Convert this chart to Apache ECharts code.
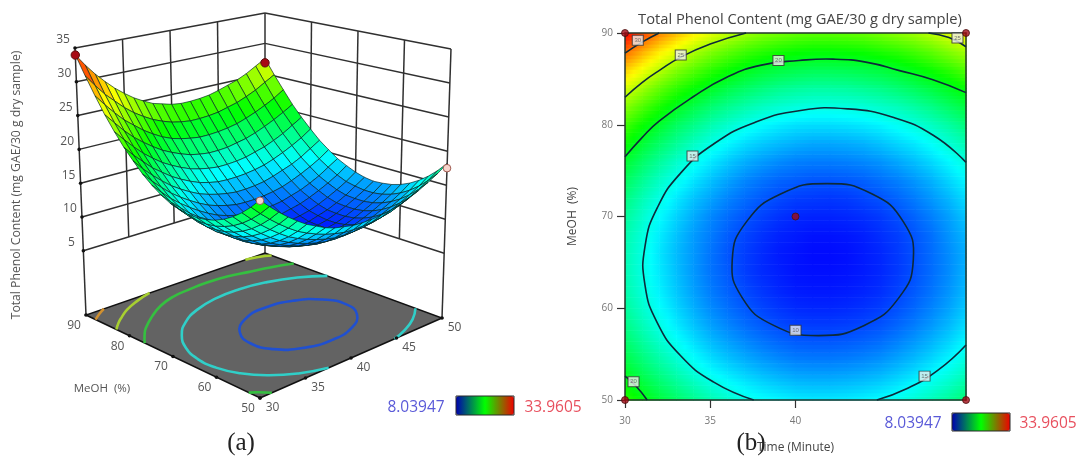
<!DOCTYPE html>
<html><head><meta charset="utf-8">
<style>html,body{margin:0;padding:0;background:#fff}#c{width:1077px;height:456px;filter:blur(0.45px)}</style>
<script src="https://cdn.jsdelivr.net/npm/echarts@6/dist/echarts.min.js"></script>
</head><body><div id="c"></div>
<script>
// ---- data ----
const timeValues = [30,31,32,33,34,35,36,37,38,39,40,41,42,43,44,45,46,47,48,49,50];
const meohValues = [50,52,54,56,58,60,62,64,66,68,70,72,74,76,78,80,82,84,86,88,90];
const tpcAtMeoh50 = [22.1,20.8,19.6,18.5,17.5,16.6,15.9,15.2,14.7,14.4,14.1,14.0,14.0,14.1,14.3,14.6,15.1,15.7,16.4,17.2,18.2];
const tpcAtMeoh52 = [20.7,19.4,18.2,17.1,16.1,15.2,14.5,13.9,13.4,13.0,12.7,12.6,12.6,12.7,12.9,13.2,13.7,14.3,15.0,15.8,16.8];
const tpcAtMeoh54 = [19.5,18.2,17.0,15.9,14.9,14.0,13.3,12.7,12.2,11.8,11.5,11.4,11.4,11.5,11.7,12.0,12.5,13.1,13.8,14.6,15.6];
const tpcAtMeoh56 = [18.5,17.2,16.0,14.9,13.9,13.0,12.3,11.7,11.2,10.8,10.5,10.4,10.4,10.5,10.7,11.0,11.5,12.1,12.8,13.6,14.6];
const tpcAtMeoh58 = [17.7,16.4,15.2,14.1,13.1,12.2,11.5,10.9,10.4,10.0,9.7,9.6,9.6,9.7,9.9,10.2,10.7,11.3,12.0,12.8,13.8];
const tpcAtMeoh60 = [17.1,15.8,14.6,13.5,12.5,11.6,10.9,10.3,9.8,9.4,9.1,9.0,9.0,9.1,9.3,9.6,10.1,10.7,11.4,12.2,13.2];
const tpcAtMeoh62 = [16.7,15.4,14.2,13.1,12.1,11.2,10.5,9.9,9.4,9.0,8.7,8.6,8.6,8.7,8.9,9.2,9.7,10.3,11.0,11.8,12.8];
const tpcAtMeoh64 = [16.5,15.2,14.0,12.9,11.9,11.0,10.3,9.6,9.1,8.8,8.5,8.4,8.4,8.5,8.7,9.0,9.5,10.1,10.8,11.6,12.6];
const tpcAtMeoh66 = [16.5,15.2,13.9,12.8,11.9,11.0,10.2,9.6,9.1,8.7,8.5,8.3,8.3,8.4,8.7,9.0,9.5,10.1,10.8,11.6,12.5];
const tpcAtMeoh68 = [16.7,15.4,14.1,13.0,12.0,11.2,10.4,9.8,9.3,8.9,8.7,8.5,8.5,8.6,8.8,9.2,9.6,10.2,10.9,11.8,12.7];
const tpcAtMeoh70 = [17.1,15.8,14.5,13.4,12.4,11.5,10.8,10.2,9.7,9.3,9.0,8.9,8.9,9.0,9.2,9.5,10.0,10.6,11.3,12.1,13.1];
const tpcAtMeoh72 = [17.8,16.4,15.2,14.0,13.0,12.2,11.4,10.8,10.3,9.9,9.6,9.5,9.4,9.5,9.8,10.1,10.6,11.2,11.9,12.7,13.7];
const tpcAtMeoh74 = [18.7,17.3,16.0,14.9,13.9,13.0,12.2,11.5,11.0,10.6,10.4,10.2,10.2,10.3,10.5,10.9,11.3,11.9,12.6,13.5,14.4];
const tpcAtMeoh76 = [19.8,18.4,17.1,15.9,14.9,14.0,13.2,12.5,12.0,11.6,11.3,11.2,11.2,11.3,11.5,11.8,12.3,12.9,13.6,14.4,15.4];
const tpcAtMeoh78 = [21.2,19.7,18.4,17.2,16.1,15.2,14.4,13.7,13.2,12.8,12.5,12.3,12.3,12.4,12.6,13.0,13.5,14.0,14.7,15.6,16.5];
const tpcAtMeoh80 = [22.7,21.2,19.9,18.6,17.6,16.6,15.8,15.1,14.5,14.1,13.8,13.7,13.7,13.8,14.0,14.3,14.8,15.4,16.1,16.9,17.9];
const tpcAtMeoh82 = [24.5,23.0,21.6,20.3,19.2,18.2,17.4,16.7,16.1,15.7,15.4,15.2,15.2,15.3,15.5,15.9,16.3,16.9,17.6,18.5,19.4];
const tpcAtMeoh84 = [26.5,25.0,23.5,22.2,21.1,20.1,19.2,18.5,17.9,17.4,17.1,16.9,16.9,17.0,17.3,17.6,18.1,18.7,19.4,20.2,21.1];
const tpcAtMeoh86 = [28.8,27.2,25.7,24.3,23.2,22.1,21.2,20.4,19.8,19.4,19.1,18.9,18.9,19.0,19.2,19.5,20.0,20.6,21.3,22.1,23.1];
const tpcAtMeoh88 = [31.3,29.6,28.0,26.7,25.4,24.3,23.4,22.6,22.0,21.5,21.2,21.0,21.0,21.1,21.3,21.7,22.1,22.7,23.4,24.3,25.2];
const tpcAtMeoh90 = [34.0,32.2,30.6,29.2,27.9,26.8,25.8,25.0,24.3,23.9,23.5,23.3,23.3,23.4,23.6,24.0,24.5,25.0,25.7,26.6,27.5];
const tpcRows = [tpcAtMeoh50,tpcAtMeoh52,tpcAtMeoh54,tpcAtMeoh56,tpcAtMeoh58,tpcAtMeoh60,tpcAtMeoh62,tpcAtMeoh64,tpcAtMeoh66,tpcAtMeoh68,tpcAtMeoh70,tpcAtMeoh72,tpcAtMeoh74,tpcAtMeoh76,tpcAtMeoh78,tpcAtMeoh80,tpcAtMeoh82,tpcAtMeoh84,tpcAtMeoh86,tpcAtMeoh88,tpcAtMeoh90];

const contour10 = [[46.91,65.3],[46.32,69.44],[44.47,72.47],[41.85,73.58],[39.16,72.47],[37.13,69.44],[36.29,65.3],[36.87,61.16],[38.72,58.13],[41.35,57.02],[44.03,58.13],[46.07,61.16]];
const contour15a = [[50,75.9],[48.1,78.83],[45.71,80.81],[43.06,81.73],[40.3,81.55],[37.63,80.26],[35.24,77.96],[33.3,74.81],[31.91,71.01],[31.18,66.83],[31.17,62.55],[31.88,58.46],[33.25,54.85],[35.18,51.97],[37.55,50]];
const contour15b = [[44.77,50],[46.48,51.2],[48.32,53.2],[50,56]];
const contour20a = [[30,76.5],[31,78.6],[32,80.4],[34,83.05],[36,85.2],[38,86.5],[40.2,87.0],[42.2,87.15],[44.2,86.8],[46.1,85.9],[48.06,84.9],[50,83.5]];
const contour20b = [[30,52.6],[30.6,51.6],[31.3,50]];
const contour25a = [[30,83],[31,84.6],[32,85.9],[33.3,87.4],[35,88.8],[37.1,90]];
const contour25b = [[47.8,90],[49,89.5],[50,88.5]];
const contour30 = [[30,87.8],[31,89],[32,90]];
const contourList = [
  {pts:contour10,  floor:'#2050d0', closed:true},
  {pts:contour15a, floor:'#30cfc8'},
  {pts:contour15b, floor:'#30cfc8'},
  {pts:contour20a, floor:'#35c040'},
  {pts:contour20b, floor:'#35c040'},
  {pts:contour25a, floor:'#a8d030'},
  {pts:contour25b, floor:'#a8d030'},
  {pts:contour30,  floor:'#d09030'}
];
const contourLabels = [[30.75,89.2,'30'],[33.27,87.6,'25'],[39,87.0,'20'],[33.96,76.6,'15'],[49.5,89.45,'25'],[40,57.6,'10'],[47.57,52.6,'15'],[30.5,52,'20']];
const designPoints2D = [[30,90],[50,90],[40,70],[30,50],[50,50]];
const designHigh3D = [[30,90,33.96],[50,90,26.8]];
const designLow3D = [[50,50,17.5],[30,50,22]];

const tpcMin = 8.03947, tpcMax = 33.9605;
const timeTicks = [30,35,40,45,50];
const meohTicks = [50,60,70,80,90];
const tpcTicks = [5,10,15,20,25,30,35];
const visibleTimeTicks = [30,35,40];

// ---- colours ----
const surfaceStops = ['#0000ff','#00ffff','#00ff00','#ffff00','#ff0000'];
const legendStops = ['#0000b0','#00ff00','#f00000'];
const shade = v => echarts.color.lerp(Math.max(0,Math.min(1,(v-tpcMin)/(tpcMax-tpcMin))), surfaceStops);

// ---- projection of the 3D box on the page plane (corner positions of the box) ----
const zFloor = -4.5, zTop = 35;
const boxFloor = {a:[260,398], b:[442,318], c:[86,315], d:[265,253]};   // a:(30,50) b:(50,50) c:(30,90) d:(50,90)
const boxTop   = {a:[260,104], b:[451,49],  c:[75,48],  d:[265,13]};
function project(t,m,z){
  const u=(t-30)/20, v=(m-50)/40, w=(z-zFloor)/(zTop-zFloor);
  const bl=(s,k)=>(1-v)*((1-u)*s.a[k]+u*s.b[k])+v*((1-u)*s.c[k]+u*s.d[k]);
  return [bl(boxFloor,0)*(1-w)+bl(boxTop,0)*w, bl(boxFloor,1)*(1-w)+bl(boxTop,1)*w];
}

// ---- build items ----
const wallSegs = [];
tpcTicks.forEach(z=>{ wallSegs.push([30,90,z,50,90,z]); wallSegs.push([50,90,z,50,50,z]); });
timeTicks.slice(1,4).forEach(t=>wallSegs.push([t,90,5,t,90,35]));
meohTicks.slice(1,4).forEach(m=>wallSegs.push([50,m,5,50,m,35]));
wallSegs.push([30,90,zFloor,30,90,35],[50,90,zFloor,50,90,35],[50,50,zFloor,50,50,35]);

const surfaceCells = [];
for(let i=timeValues.length-2;i>=0;i--) for(let j=meohValues.length-2;j>=0;j--) surfaceCells.push([i,j]);
const heatCells = surfaceCells.slice();

const chart = echarts.init(document.getElementById('c'),null,{renderer:'canvas'});
const P = (api,t,m,z)=>api.coord(project(t,m,z));
const silentBase = {silent:true, animation:false, clip:false};
const series = [];

// a closed contour is drawn as a smooth ring; an open one as a smooth arc
function contourShape(c,toPage){
  return {type:c.closed?'polygon':'polyline',shape:{points:c.pts.map(toPage),smooth:0.5,smoothConstraint:false}};
}

// back walls
series.push({...silentBase,type:'custom',xAxisIndex:0,yAxisIndex:0,z:2,data:wallSegs,
  renderItem(p,api){const s=wallSegs[p.dataIndex];
    return {type:'line',shape:{x1:P(api,s[0],s[1],s[2])[0],y1:P(api,s[0],s[1],s[2])[1],x2:P(api,s[3],s[4],s[5])[0],y2:P(api,s[3],s[4],s[5])[1]},style:{stroke:'#303030',lineWidth:1.5}};}
});
// floor
series.push({...silentBase,type:'custom',xAxisIndex:0,yAxisIndex:0,z:3,data:[[30,50]],
  renderItem(p,api){return {type:'polygon',shape:{points:[P(api,30,50,zFloor),P(api,50,50,zFloor),P(api,50,90,zFloor),P(api,30,90,zFloor)]},style:{fill:'#636363',stroke:'#111',lineWidth:1.5}};}
});
// floor contours
series.push({...silentBase,type:'custom',xAxisIndex:0,yAxisIndex:0,z:4,data:contourList.map(c=>c.pts[0]),
  renderItem(p,api){const c=contourList[p.dataIndex];
    return Object.assign(contourShape(c,q=>P(api,q[0],q[1],zFloor)),{style:{stroke:c.floor,lineWidth:2.6,fill:'none'}});}
});
// surface mesh
series.push({...silentBase,type:'custom',xAxisIndex:0,yAxisIndex:0,z:5,data:surfaceCells,
  renderItem(p,api){const [i,j]=surfaceCells[p.dataIndex];
    const T=timeValues,M=meohValues,R=tpcRows;
    const v=(R[j][i]+R[j][i+1]+R[j+1][i]+R[j+1][i+1])/4;
    return {type:'polygon',shape:{points:[P(api,T[i],M[j],R[j][i]),P(api,T[i+1],M[j],R[j][i+1]),P(api,T[i+1],M[j+1],R[j+1][i+1]),P(api,T[i],M[j+1],R[j+1][i])]},
      style:{fill:shade(v),stroke:'rgba(5,40,35,0.75)',lineWidth:0.9}};}
});
// design points on the surface + axis tick dots
const tickDots = tpcTicks.map(z=>[30,90,z]).concat(meohTicks.map(m=>[30,m,zFloor]),timeTicks.map(t=>[t,50,zFloor]));
series.push({...silentBase,type:'custom',xAxisIndex:0,yAxisIndex:0,z:6,data:tickDots,
  renderItem(p,api){const q=tickDots[p.dataIndex],c=P(api,q[0],q[1],q[2]);
    return {type:'circle',shape:{cx:c[0],cy:c[1],r:1.8},style:{fill:'#111'}};}
});
series.push({...silentBase,type:'custom',xAxisIndex:0,yAxisIndex:0,z:7,data:designHigh3D,
  renderItem(p,api){const q=designHigh3D[p.dataIndex],c=P(api,q[0],q[1],q[2]);
    return {type:'circle',shape:{cx:c[0],cy:c[1],r:4.2},style:{fill:'#a80a14',stroke:'#5a1010',lineWidth:1}};}
});
series.push({...silentBase,type:'custom',xAxisIndex:0,yAxisIndex:0,z:7,data:designLow3D,
  renderItem(p,api){const q=designLow3D[p.dataIndex],c=P(api,q[0],q[1],q[2]);
    return {type:'circle',shape:{cx:c[0],cy:c[1],r:3.8},style:{fill:'#f6d4cc',stroke:'#a05a50',lineWidth:1}};}
});
// 3D tick labels
const axisText3D = tpcTicks.map(z=>[30,90,z,String(z),-12,-8]).concat(meohTicks.map(m=>[30,m,zFloor,String(m),-12,10.5]),timeTicks.map(t=>[t,50,zFloor,String(t),12.5,9.5]));
series.push({...silentBase,type:'custom',xAxisIndex:0,yAxisIndex:0,z:7,data:axisText3D,
  renderItem(p,api){const q=axisText3D[p.dataIndex],c=P(api,q[0],q[1],q[2]);
    return {type:'text',style:{text:q[3],x:c[0]+q[4],y:c[1]+q[5],fill:'#555',font:'12px "Open Sans"',align:'center',verticalAlign:'middle',textAlign:'center',textVerticalAlign:'middle'}};}
});
// contour plot fill
series.push({...silentBase,type:'custom',xAxisIndex:1,yAxisIndex:1,z:1,data:heatCells,
  renderItem(p,api){const [i,j]=heatCells[p.dataIndex];
    const T=timeValues,M=meohValues,R=tpcRows,kids=[],n=5;
    for(let s=0;s<n;s++){
      const f0=s/n,f1=(s+1)/n,fc=(s+.5)/n;
      const a=api.coord([T[i],M[j]+(M[j+1]-M[j])*f1]), b=api.coord([T[i+1],M[j]+(M[j+1]-M[j])*f0]);
      const vl=R[j][i]*(1-fc)+R[j+1][i]*fc, vr=R[j][i+1]*(1-fc)+R[j+1][i+1]*fc, vm=(vl+vr)/2;
      kids.push({type:'rect',shape:{x:a[0],y:a[1],width:b[0]-a[0]+0.6,height:b[1]-a[1]+0.6},
        style:{fill:new echarts.graphic.LinearGradient(0,0,1,0,[{offset:0,color:shade(vl)},{offset:.5,color:shade(vm)},{offset:1,color:shade(vr)}])}});
    }
    return {type:'group',children:kids};}
});
// contour lines
series.push({...silentBase,type:'custom',xAxisIndex:1,yAxisIndex:1,z:6,data:contourList.map(c=>c.pts[0]),
  renderItem(p,api){const c=contourList[p.dataIndex];
    return Object.assign(contourShape(c,q=>api.coord(q)),{style:{stroke:'#0d2a3a',lineWidth:1.6,fill:'none'}});}
});
// contour labels
series.push({type:'scatter',xAxisIndex:1,yAxisIndex:1,z:7,silent:true,animation:false,data:contourLabels.map(l=>({value:[l[0],l[1]],label:{formatter:l[2]}})),
  symbol:'rect',symbolSize:[11,10],itemStyle:{color:'#eeeeee',borderColor:'#333',borderWidth:1},
  label:{show:true,position:'inside',fontSize:6,color:'#555'}});
// design points, contour plot
series.push({type:'scatter',xAxisIndex:1,yAxisIndex:1,z:8,silent:true,animation:false,clip:false,data:designPoints2D,symbolSize:7,
  itemStyle:{color:'#a00a14',borderColor:'#4a1010',borderWidth:1}});

const textEl = (text,x,y,font,fill,extra)=>Object.assign({type:'text',x,y,silent:true,z:20,style:{text,font,fill,textAlign:'center',textVerticalAlign:'middle',align:'center',verticalAlign:'middle'}},extra||{});
const barFrame = (x,y,w,h)=>({type:'rect',silent:true,z:21,shape:{x,y,width:w,height:h},style:{fill:'none',stroke:'#2a2a2a',lineWidth:1}});
const sans='"Open Sans"';

chart.setOption({
  animation:false,
  backgroundColor:'#ffffff',
  title:{text:'Total Phenol Content (mg GAE/30 g dry sample)',left:795,top:7,textAlign:'center',
    textStyle:{fontFamily:'Open Sans',fontSize:14.7,fontWeight:'normal',color:'#444'}},
  grid:[
    {left:0,top:0,width:1077,height:456,show:false,outerBoundsMode:'none'},
    {left:625,top:33,width:341,height:367,show:false,outerBoundsMode:'none',containLabel:false}
  ],
  xAxis:[
    {type:'value',gridIndex:0,min:0,max:1077,show:false},
    {type:'value',gridIndex:1,min:30,max:50,interval:5,z:5,splitLine:{show:false},
      axisLine:{onZero:false,lineStyle:{color:'#22352a',width:1.5}},
      axisTick:{length:8,lineStyle:{color:'#333',width:1.2},inside:false,customValues:visibleTimeTicks},
      axisLabel:{fontSize:10,color:'#777',margin:16,fontFamily:'Open Sans',customValues:visibleTimeTicks},
      name:'Time (Minute)',nameLocation:'middle',nameGap:42,nameTextStyle:{fontFamily:'Open Sans',fontSize:12,color:'#444'}},
    {type:'value',gridIndex:1,position:'top',min:30,max:50,interval:5,z:5,splitLine:{show:false},axisTick:{show:false},axisLabel:{show:false},
      axisLine:{onZero:false,lineStyle:{color:'#22352a',width:1.5}}}
  ],
  yAxis:[
    {type:'value',gridIndex:0,min:0,max:456,inverse:true,show:false},
    {type:'value',gridIndex:1,min:50,max:90,interval:10,z:5,splitLine:{show:false},
      axisLine:{onZero:false,lineStyle:{color:'#22352a',width:1.5}},
      axisTick:{length:8,lineStyle:{color:'#333',width:1.2}},
      axisLabel:{fontSize:10,color:'#777',margin:12,fontFamily:'Open Sans'},
      name:'MeOH  (%)',nameLocation:'middle',nameGap:46,nameTextStyle:{fontFamily:'Open Sans',fontSize:12,color:'#444'}},
    {type:'value',gridIndex:1,position:'right',min:50,max:90,interval:10,z:5,splitLine:{show:false},axisTick:{show:false},axisLabel:{show:false},
      axisLine:{onZero:false,lineStyle:{color:'#22352a',width:1.5}}}
  ],
  visualMap:[
    {type:'continuous',seriesIndex:[],min:tpcMin,max:tpcMax,orient:'horizontal',left:456,top:396,itemWidth:19,itemHeight:58,padding:0,
      calculable:false,realtime:false,text:null,showLabel:false,inRange:{color:legendStops},hoverLink:false},
    {type:'continuous',seriesIndex:[],min:tpcMin,max:tpcMax,orient:'horizontal',left:952,top:413,itemWidth:18,itemHeight:58,padding:0,
      calculable:false,realtime:false,text:null,showLabel:false,inRange:{color:legendStops},hoverLink:false}
  ],
  graphic:[
    barFrame(456,396,58,19),
    barFrame(952,413,58,18),
    textEl('Total Phenol Content (mg GAE/30 g dry sample)',17,185,'12.2px '+sans,'#555',{rotation:Math.PI/2}),
    textEl('MeOH  (%)',102,389,'11.5px '+sans,'#555'),
    textEl('(a)',241,443,'25px "Liberation Serif"','#222'),
    textEl('(b)',751,443,'25px "Liberation Serif"','#222'),
    textEl('8.03947',416,408,'15.5px '+sans,'#5a5ad8'),
    textEl('33.9605',553,408,'15.5px '+sans,'#e8505e'),
    textEl('8.03947',913,424,'15.5px '+sans,'#5a5ad8'),
    textEl('33.9605',1048,424,'15.5px '+sans,'#e8505e')
  ],
  series
});
</script></body></html>
